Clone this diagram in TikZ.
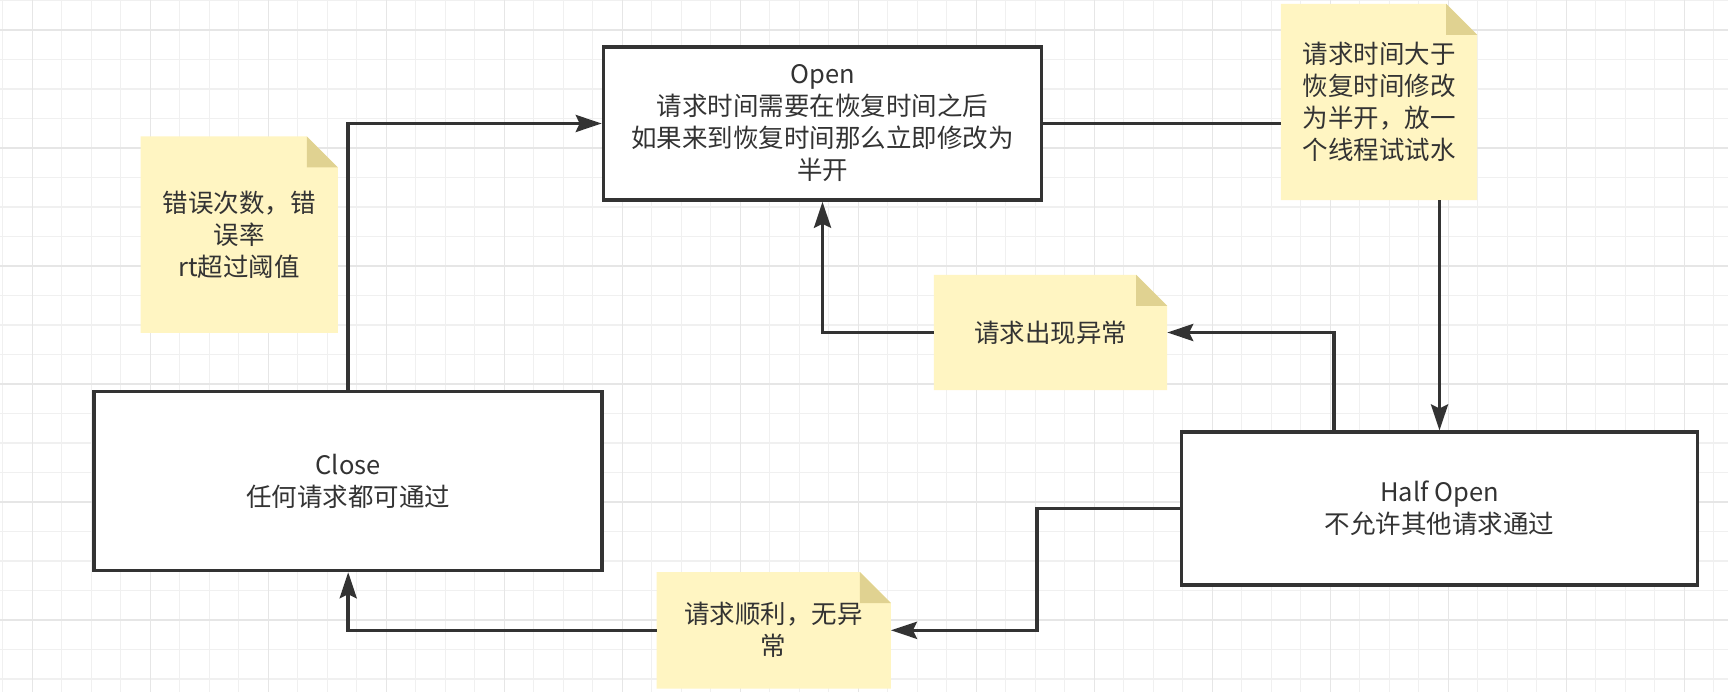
\documentclass[tikz,border=0pt]{standalone}
\usepackage{fontspec}
\setmainfont{Noto Sans CJK SC}
\usetikzlibrary{arrows.meta,calc}
\definecolor{ink}{HTML}{333333}
\definecolor{notefill}{HTML}{FFF5C2}
\definecolor{foldfill}{HTML}{E0D291}
\definecolor{gridminor}{HTML}{F0F0F0}
\definecolor{gridmajor}{HTML}{E6E6E6}
\pgfdeclarelayer{background}
\pgfsetlayers{background,main}
\tikzset{
  statebox/.style={draw=ink, line width=3.5pt, fill=white, inner sep=0pt, align=center, text=ink},
  notebox/.style={inner sep=0pt, align=center, text=ink},
  conn/.style={draw=ink, line width=3.5pt, -{Stealth[length=26pt,width=17pt,inset=4pt]}},
  plainconn/.style={draw=ink, line width=3.5pt},
}
\newcommand{\notebg}[1]{%
  \fill[notefill] (#1.south west) -- (#1.north west) -- ([xshift=-31pt]#1.north east)
     -- ([yshift=-31pt]#1.north east) -- (#1.south east) -- cycle;
  \fill[foldfill] ([xshift=-31pt]#1.north east) -- ([yshift=-31pt]#1.north east)
     -- ([xshift=-31pt,yshift=-31pt]#1.north east) -- cycle;}
\begin{document}
\begin{tikzpicture}[x=1pt,y=-1pt, font=\fontsize{25.5}{32}\selectfont]
\useasboundingbox (0,0) rectangle (1728,692);
\begin{pgfonlayer}{background}
  \fill[white] (0,0) rectangle (1728,692);
  \foreach \i in {-1,...,57} {\draw[gridminor, line width=1.2pt] ({32.3+29.5*\i},0) -- ++(0,692);}
  \foreach \i in {-1,...,23} {\draw[gridminor, line width=1.2pt] (0,{30+29.5*\i}) -- ++(1728,0);}
  \foreach \i in {0,...,14} {\draw[gridmajor, line width=1.2pt] ({32.3+118*\i},0) -- ++(0,692);}
  \foreach \i in {0,...,5} {\draw[gridmajor, line width=1.2pt] (0,{30+118*\i}) -- ++(1728,0);}
\end{pgfonlayer}

% state boxes
\node[statebox, minimum width=438pt, minimum height=153pt] (open) at (822.5,123.5)
  {Open\\请求时间需要在恢复时间之后\\如果来到恢复时间那么立即修改为\\半开};
\node[statebox, minimum width=508pt, minimum height=179pt] (close) at (348.2,481)
  {Close\\任何请求都可通过};
\node[statebox, minimum width=516pt, minimum height=153pt] (half) at (1439.5,508.7)
  {Half Open\\不允许其他请求通过};

% notes
\node[notebox, minimum width=197pt, minimum height=196pt] (note1) at (239.2,234.7)
  {错误次数，错\\误率\\rt超过阈值};
\node[notebox, minimum width=196pt, minimum height=196pt] (note2) at (1379,102)
  {请求时间大于\\恢复时间修改\\为半开，放一\\个线程试试水};
\node[notebox, minimum width=233pt, minimum height=115pt] (note3) at (1050.5,332.5)
  {请求出现异常};
\node[notebox, minimum width=234pt, minimum height=116pt] (note4) at (773.7,630.3)
  {请求顺利，无异\\常};

\begin{pgfonlayer}{background}
  \notebg{note1}
  \notebg{note2}
  \notebg{note3}
  \notebg{note4}
\end{pgfonlayer}

% connectors
\draw[conn] (close.north) |- (open.west);
\draw[plainconn] (open.east) -- (open.east -| note2.west);
\draw[conn] (half.north |- note2.south) -- (half.north);
\draw[conn] ([xshift=-105.5pt]half.north) |- (note3.east);
\draw[conn] (note3.west) -| (open.south);
\draw[conn] (half.west) -- ++(-143,0) |- (note4.east);
\draw[conn] (note4.west) -| (close.south);
\end{tikzpicture}
\end{document}
